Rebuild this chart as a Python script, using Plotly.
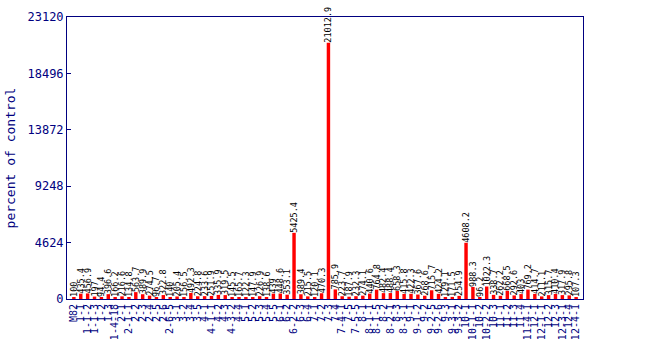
import plotly.graph_objects as go

categories = ["M82", "1-1", "1-1-2", "1-1-3", "1-2", "1-3", "1-4-18", "2-1", "2-1-1", "2-2",
              "2-3", "2-4", "2-5", "2-6", "2-6-5", "3-1", "3-2", "3-4", "3-5", "4-1",
              "4-1-1", "4-2", "4-3", "4-3-2", "4-4", "5-1", "5-2", "5-3", "5-4", "5-5",
              "6-1", "6-2", "6-2-2", "6-3", "6-4", "7-1", "7-2", "7-3", "7-4", "7-4-1",
              "7-5", "7-5-5", "8-1", "8-1-1", "8-1-5", "8-2", "8-2-1", "8-3", "8-3-1", "9-1",
              "9-1-2", "9-2", "9-2-5", "9-2-6", "9-3", "9-3-1", "9-3-2", "10-1", "10-1-1", "10-2",
              "10-2-2", "10-3", "11-1", "11-2", "11-3", "11-4", "11-4-1", "12-1", "12-1-1", "12-2",
              "12-3", "12-3-1", "12-4", "12-4-1"]

values = [100, 435.4, 456.9, 197, 94.4, 396.6, 166.2, 216.6, 134.8, 563.7,
          389.9, 274.5, 96.7, 322.8, 140, 205.4, 156.5, 492.3, 224.8, 233.6,
          251.9, 335.9, 319.5, 145.5, 165.7, 122.3, 147.9, 226.9, 138.6, 439,
          448.6, 353.1, 5425.4, 389.4, 215.5, 120.1, 470.3, 21012.9, 785.9, 223.7,
          187.9, 232.3, 274.1, 440.6, 764.8, 482.4, 488.4, 658.3, 415.8, 422.3,
          367.6, 268.6, 715.7, 424.2, 129.1, 171.5, 254.9, 4608.2, 988.3, 96.2,
          1022.3, 338.7, 262.2, 668.5, 292.6, 403, 769.2, 414.7, 211.1, 315.7,
          410.4, 317.9, 295.8, 107.3]

y_ticks = [0, 4624, 9248, 13872, 18496, 23120]

navy = "#000080"
mono = "DejaVu Sans Mono"

labels = [("%g" % v) for v in values]

fig = go.Figure(go.Bar(
    x=list(range(len(categories))),
    y=values,
    width=0.5,
    marker=dict(color="#ff0000", line=dict(width=0)),
    text=labels,
    textposition="outside",
    textangle=-90,
    constraintext="none",
    cliponaxis=False,
    textfont=dict(family=mono, size=8.5, color="#000000"),
))

fig.update_layout(
    width=650, height=350,
    margin=dict(l=58, r=67, t=10, b=46),
    paper_bgcolor="#ffffff", plot_bgcolor="#ffffff",
    showlegend=False,
    bargap=0.5,
    xaxis=dict(
        range=[-1, len(categories)],
        tickmode="array",
        tickvals=list(range(len(categories))),
        ticktext=categories,
        tickangle=-90,
        tickfont=dict(family=mono, size=10, color=navy),
        showline=True, linecolor=navy, linewidth=1, mirror=True,
        showgrid=False, zeroline=False, ticks="",
    ),
    yaxis=dict(
        range=[0, 23120],
        tickmode="array",
        tickvals=y_ticks,
        ticktext=[str(t) for t in y_ticks],
        tickfont=dict(family=mono, size=12, color=navy),
        showline=True, linecolor=navy, linewidth=1, mirror=True,
        showgrid=False, zeroline=False,
        ticks="inside", ticklen=4, tickcolor=navy,
        title=dict(text="percent of control", font=dict(family=mono, size=13, color=navy), standoff=8),
    ),
)

fig.write_html("out.html")
